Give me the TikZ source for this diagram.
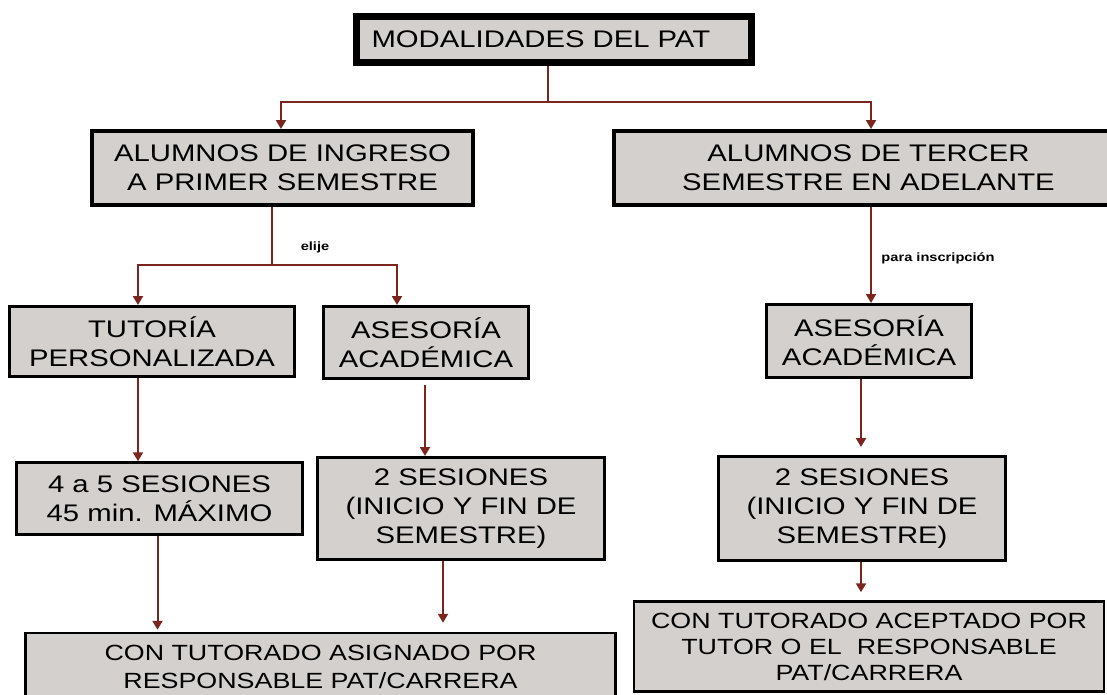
\documentclass[tikz,border=0pt]{standalone}
\usepackage{fontspec}
\setmainfont{Liberation Sans}[FakeStretch=1.22]
\usetikzlibrary{arrows.meta}
\definecolor{boxgray}{RGB}{212,208,206}
\definecolor{linkred}{RGB}{122,38,30}

\begin{document}
\begin{tikzpicture}[x=1pt, y=-1pt,
    box/.style={draw=black, fill=boxgray, line width=3pt, align=center, inner sep=0pt,
        font=\fontsize{24}{29}\selectfont},
    smallbox/.style={box, line width=2.5pt, font=\fontsize{22}{28}\selectfont},
    link/.style={draw=linkred, line width=2pt},
    arr/.style={link, -{Triangle[width=10pt,length=9pt]}},
    tag/.style={font=\fontsize{12}{14}\bfseries\selectfont}]
    \useasboundingbox (0,0) rectangle (1107,694);
    \clip (0,0) rectangle (1107,694);

    % Title
    \node[box, line width=7pt, minimum width=395pt, minimum height=46pt,
        text width=365pt, align=left, inner xsep=15pt] (pat) at (554,39.5) {MODALIDADES DEL PAT};

    % Student groups
    \node[box, line width=4pt, minimum width=381pt, minimum height=74pt] (ingreso) at (282.5,168)
        {ALUMNOS DE INGRESO\\A PRIMER SEMESTRE};
    \node[box, line width=4pt, minimum width=509pt, minimum height=74pt] (tercer) at (868.5,168)
        {ALUMNOS DE TERCER\\SEMESTRE EN ADELANTE};

    % Modalities
    \node[box, minimum width=285pt, minimum height=70pt] (tutoria) at (152,341.5)
        {TUTORÍA\\PERSONALIZADA};
    \node[box, minimum width=205pt, minimum height=72pt] (asesA) at (426,342.5)
        {ASESORÍA\\ACADÉMICA};
    \node[box, minimum width=205pt, minimum height=73pt] (asesB) at (869,341)
        {ASESORÍA\\ACADÉMICA};

    % Sessions
    \node[box, line width=2.5pt, minimum width=286pt, minimum height=72pt] (cuatro) at (159.5,498.5)
        {4 a 5 SESIONES\\45 min. MÁXIMO};
    \node[box, minimum width=287pt, minimum height=102pt] (dosA) at (461,508.5)
        {2 SESIONES\\(INICIO Y FIN DE\\SEMESTRE)};
    \node[box, minimum width=287pt, minimum height=104pt] (dosB) at (862,508.5)
        {2 SESIONES\\(INICIO Y FIN DE\\SEMESTRE)};

    % Tutor assignment
    \node[smallbox, minimum width=590pt, minimum height=67pt] (asignado) at (320.5,666.5)
        {CON TUTORADO ASIGNADO POR\\RESPONSABLE PAT/CARRERA};
    \node[smallbox, font=\fontsize{22}{26}\selectfont, minimum width=470pt, minimum height=90pt] (aceptado) at (869,646.5)
        {CON TUTORADO ACEPTADO POR\\TUTOR O EL\ \ RESPONSABLE\\PAT/CARRERA};

    % Branches
    \coordinate (fork1) at (548,102);
    \coordinate (fork2) at (272,265);
    \draw[link] (pat.south -| fork1) -- (fork1);
    \draw[arr] (fork1) -| ([xshift=-1.5pt]ingreso.north);
    \draw[arr] (fork1) -| ([xshift=2.5pt]tercer.north);
    \draw[link] (ingreso.south -| fork2) -- (fork2);
    \draw[arr] (fork2) -| ([xshift=-14pt]tutoria.north);
    \draw[arr] (fork2) -| ([xshift=-29pt]asesA.north);
    \node[tag] (elije) at (315,247) {elije};
    \draw[arr] ([xshift=2.5pt]tercer.south) -- ([xshift=2.5pt]tercer.south |- asesB.north);
    \node[tag] (inscr) at (938,258) {para inscripción};

    % Arrows down
    \draw[arr] ([xshift=-14pt]tutoria.south) -- ([xshift=-14pt]tutoria.south |- cuatro.north);
    \draw[arr, shorten <=5pt] ([xshift=-1pt]asesA.south) -- ([xshift=-1pt]asesA.south |- dosA.north);
    \draw[arr, line width=2.5pt, shorten >=8pt] ([xshift=-8pt]asesB.south) -- ([xshift=-8pt]asesB.south |- dosB.north);
    \draw[arr, shorten >=2pt] ([xshift=-2pt]cuatro.south) -- ([xshift=-2pt]cuatro.south |- asignado.north);
    \draw[arr, shorten >=9pt] ([xshift=-18pt]dosA.south) -- ([xshift=-18pt]dosA.south |- asignado.north);
    \draw[arr, line width=2.5pt, shorten >=8pt] ([xshift=-1pt]dosB.south) -- ([xshift=-1pt]dosB.south |- aceptado.north);
\end{tikzpicture}
\end{document}
